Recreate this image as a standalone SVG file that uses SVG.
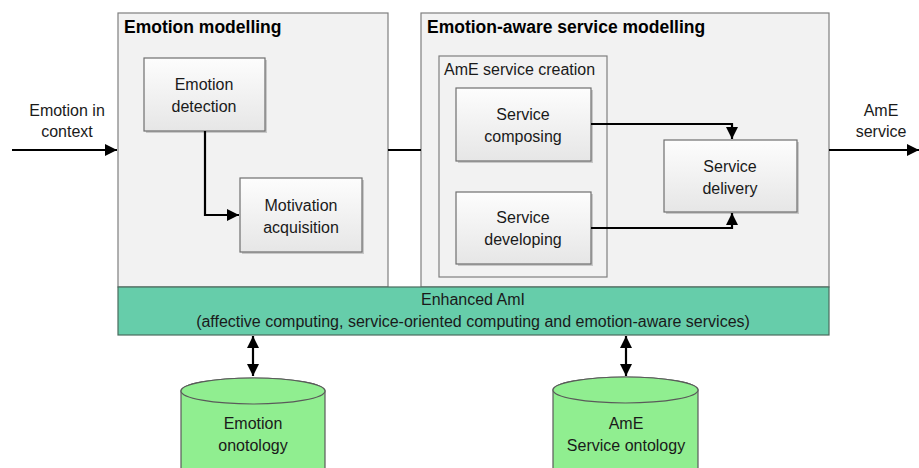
<svg xmlns="http://www.w3.org/2000/svg" width="919" height="468" viewBox="0 0 919 468">
<style>
text{font-family:"Liberation Sans",Arial,sans-serif;font-size:16px;fill:#1a1a1a;text-anchor:middle}
.title{font-weight:bold;font-size:17.5px;text-anchor:start;fill:#000}
.cont{fill:#f2f2f2;stroke:#7f7f7f;stroke-width:1.2}
.box{fill:url(#g);stroke:#6f6f6f;stroke-width:1.2}
.shadow{fill:#c8c8c8}
.line{fill:none;stroke:#000;stroke-width:2.2}
.cyl{fill:#90ee90;stroke:#5a5a5a;stroke-width:1.2}
</style>
<defs>
<linearGradient id="g" x1="0" y1="0" x2="0" y2="1">
<stop offset="0" stop-color="#fdfdfd"/>
<stop offset="1" stop-color="#e6e6e6"/>
</linearGradient>
<marker id="a" viewBox="0 0 10 10" refX="10" refY="5" markerWidth="5.5" markerHeight="5.5" orient="auto-start-reverse" markerUnits="strokeWidth">
<path d="M0,0 L10,5 L0,10 z" fill="#000"/>
</marker>
</defs>
<rect width="919" height="468" fill="#fff"/>
<g id="emotion-modelling">
<rect class="cont" x="118" y="13" width="270" height="274"/>
<text class="title" x="124" y="33">Emotion modelling</text>
</g>
<g id="emotion-aware-service-modelling">
<rect class="cont" x="421" y="13" width="408" height="274"/>
<text class="title" x="427" y="33">Emotion-aware service modelling</text>
</g>
<g id="ame-service-creation">
<rect class="cont" x="439" y="56" width="168" height="221"/>
<text x="444" y="75" style="text-anchor:start">AmE service creation</text>
</g>
<g id="emotion-detection">
<rect class="shadow" x="146" y="60" width="121" height="73"/>
<rect class="box" x="144" y="58" width="121" height="73"/>
<text x="204" y="90">Emotion</text>
<text x="204" y="112">detection</text>
</g>
<g id="motivation-acquisition">
<rect class="shadow" x="242" y="180" width="122" height="74"/>
<rect class="box" x="240" y="178" width="122" height="74"/>
<text x="301" y="211">Motivation</text>
<text x="301" y="233">acquisition</text>
</g>
<g id="service-composing">
<rect class="shadow" x="458" y="90" width="135" height="73"/>
<rect class="box" x="456" y="88" width="135" height="73"/>
<text x="523" y="120">Service</text>
<text x="523" y="142">composing</text>
</g>
<g id="service-developing">
<rect class="shadow" x="458" y="194" width="135" height="72"/>
<rect class="box" x="456" y="192" width="135" height="72"/>
<text x="523" y="223">Service</text>
<text x="523" y="245">developing</text>
</g>
<g id="service-delivery">
<rect class="shadow" x="666" y="142" width="133" height="72"/>
<rect class="box" x="664" y="140" width="133" height="72"/>
<text x="730" y="172">Service</text>
<text x="730" y="194">delivery</text>
</g>
<g id="enhanced-ami">
<rect x="118" y="287" width="711" height="48" fill="#66cdaa" stroke="#4a6b5e" stroke-width="1.2"/>
<text x="473" y="305">Enhanced AmI</text>
<text x="473" y="327">(affective computing, service-oriented computing and emotion-aware services)</text>
</g>
<g id="emotion-ontology">
<path class="cyl" d="M181,391 L181,470 L325,470 L325,391 A72,13 0 0 0 181,391 Z"/>
<ellipse class="cyl" cx="253" cy="391" rx="72" ry="13"/>
<text x="253" y="429">Emotion</text>
<text x="253" y="451">onotology</text>
</g>
<g id="ame-service-ontology">
<path class="cyl" d="M553,390 L553,470 L698,470 L698,390 A72.5,13 0 0 0 553,390 Z"/>
<ellipse class="cyl" cx="625.5" cy="390" rx="72.5" ry="13"/>
<text x="626" y="429">AmE</text>
<text x="626" y="451">Service ontology</text>
</g>
<g id="input-label">
<text x="67" y="116">Emotion in</text>
<text x="67" y="137">context</text>
</g>
<g id="output-label">
<text x="881" y="116">AmE</text>
<text x="881" y="137">service</text>
</g>
<g id="connectors">
<line class="line" x1="12" y1="150" x2="117" y2="150" marker-end="url(#a)"/>
<line class="line" x1="388" y1="150" x2="421" y2="150"/>
<line class="line" x1="829" y1="150" x2="919" y2="150" marker-end="url(#a)"/>
<polyline class="line" points="205,131 205,215 239,215" marker-end="url(#a)"/>
<polyline class="line" points="591,124 732,124 732,139" marker-end="url(#a)"/>
<polyline class="line" points="591,228 732,228 732,213" marker-end="url(#a)"/>
<line class="line" x1="253" y1="336" x2="253" y2="376" marker-start="url(#a)" marker-end="url(#a)"/>
<line class="line" x1="626" y1="336" x2="626" y2="376" marker-start="url(#a)" marker-end="url(#a)"/>
</g>
</svg>
